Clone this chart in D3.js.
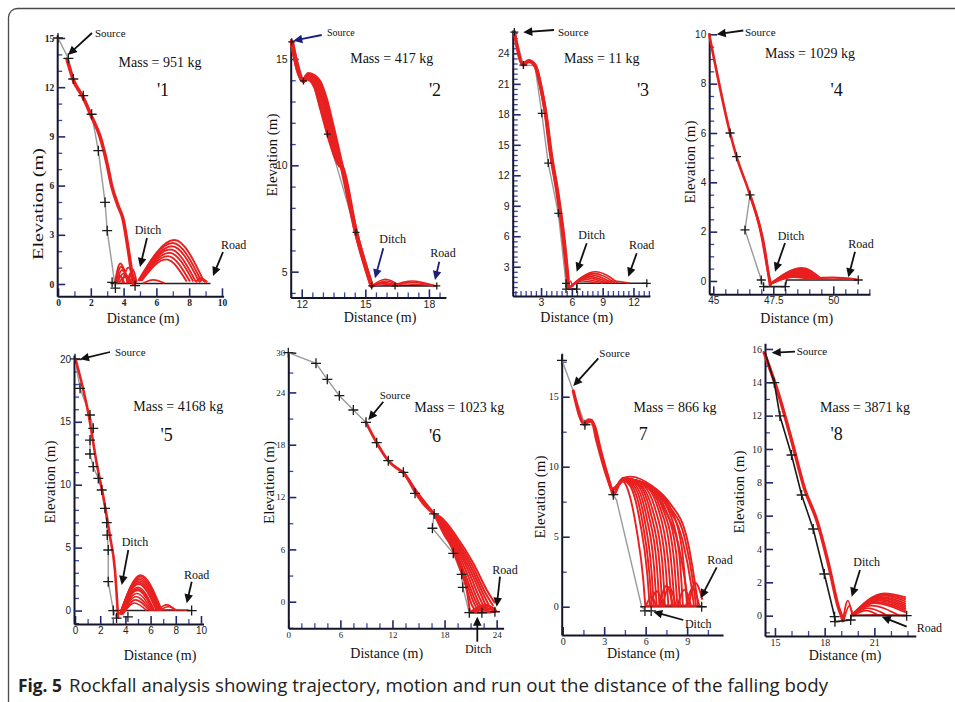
<!DOCTYPE html>
<html><head><meta charset="utf-8">
<script src="https://cdn.jsdelivr.net/npm/d3@7"></script>
<style>body{margin:0;background:#fff}svg{display:block}</style>
</head><body>
<svg id="fig" width="955" height="702"></svg>
<script>
// ---------- values ----------
const masses = [951, 417, 11, 1029, 4168, 1023, 866, 3871];
const panelTags = ["'1", "'2", "'3", "'4", "'5", "'6", "7", "'8"];

// Panel 1
const xTicks1 = [0, 2, 4, 6, 8, 10], yTicks1 = [0, 3, 6, 9, 12, 15];
const terrain1 = [[0,15],[0.63,13.76],[0.93,12.5],[1.54,11.48],[2.05,10.35],[2.46,8.13],[2.87,4.98],[3.0,3.25],[3.5,-0.25]];
const ground1 = [[3.2,0.03],[9.3,0.03]];
const markers1 = [[0,15],[0.63,13.76],[0.93,12.5],[1.54,11.48],[2.05,10.35],[2.46,8.13],[2.87,4.98],[3.0,3.25],[3.3,0.1],[3.5,-0.25],[4.7,-0.1]];
const trunks1 = [[[0.55,13.7],[0.93,12.45],[1.54,11.35],[2.05,10.2],[2.56,9.0],[3.0,7.3],[3.27,6.0],[3.65,4.8],[3.98,3.9],[4.3,2.0],[4.6,0.0]]];
const arcs1 = [
  [[3.45,0.0],[3.8,1.25],[4.25,0.05]], [[3.5,0.0],[3.85,1.05],[4.3,0.05]], [[3.55,0.0],[3.9,0.85],[4.4,0.05]],
  [[3.6,0.05],[4.0,0.65],[4.5,0.05]], [[3.7,0.05],[4.1,0.45],[4.6,0.05]], [[4.2,0.05],[4.45,0.7],[4.75,0.05]],
  [[4.3,0.05],[4.55,0.9],[4.8,0.1]], [[3.5,0.05],[3.75,0.5],[4.05,0.05]], [[3.9,0.05],[4.3,1.0],[4.7,0.05]],
  [[4.9,0.2],[7.1,2.68],[8.9,0.15]], [[4.9,0.2],[7.0,2.5],[8.75,0.15]], [[4.95,0.2],[6.95,2.3],[8.6,0.15]],
  [[5.0,0.2],[6.85,2.1],[8.4,0.15]], [[5.0,0.2],[6.8,1.9],[8.25,0.15]], [[5.05,0.2],[6.7,1.7],[8.05,0.15]],
  [[5.1,0.2],[6.6,1.5],[7.85,0.15]],
  [[8.4,0.1],[8.7,0.35],[9.0,0.1]], [[8.6,0.1],[8.85,0.3],[9.1,0.1]], [[5.2,0.05],[5.8,0.25],[6.5,0.05]]
];

// Panel 2
const xTicks2 = [12, 15, 18], yTicks2 = [5, 10, 15];
const terrain2 = [[11.53,15.81],[12.08,13.97],[12.5,13.97],[13.21,11.47],[14.56,6.85],[15.3,4.33]];
const ground2 = [[15.3,4.33],[18.37,4.33]];
const markers2 = [[11.53,15.81],[12.08,13.97],[13.21,11.47],[14.56,6.85],[15.3,4.33],[16.4,4.33],[18.37,4.33]];
const trunks2 = [
  [[11.53,15.81],[12.08,13.97],[12.31,14.29],[12.78,14.01],[13.15,13.07],[13.42,11.98],[13.68,10.88],[13.89,9.94],[14.56,6.85],[15.3,4.33]],
  [[11.53,15.81],[12.08,13.97],[12.25,14.1],[12.63,13.7],[12.94,12.6],[13.33,11.19],[13.73,10.1],[13.89,9.94],[14.56,6.85],[15.3,4.33]],
  [[12.15,14.05],[12.5,14.2],[12.88,13.65],[13.2,12.3],[13.5,11.1],[13.8,10.0]],
  [[12.2,14.15],[12.65,13.95],[13.05,12.9],[13.38,11.6],[13.7,10.5],[13.9,9.9]]
];
const arcs2 = [
  [[15.3,4.33],[15.95,4.64],[16.6,4.36]], [[15.35,4.33],[16.0,4.56],[16.5,4.36]], [[15.4,4.33],[15.9,4.5],[16.4,4.35]],
  [[15.3,4.33],[15.8,4.45],[16.3,4.35]], [[16.3,4.36],[17.2,4.56],[18.3,4.34]], [[16.4,4.36],[17.1,4.5],[18.25,4.34]],
  [[15.5,4.35],[16.9,4.42],[18.3,4.34]]
];

// Panel 3
const xTicks3 = [3, 6, 9, 12], yTicks3 = [3, 6, 9, 12, 15, 18, 21, 24];
const terrain3 = [[0.4,26.1],[1.28,22.85],[2.4,22.8],[3.07,18.1],[3.7,13.2],[4.68,8.26],[5.43,1.37],[5.5,0.8]];
const ground3 = [[5.5,0.8],[6.47,0.8],[6.5,1.37],[13.3,1.37]];
const markers3 = [[0.4,26.1],[1.28,22.85],[3.07,18.1],[3.7,13.2],[4.68,8.26],[5.43,1.37],[5.43,0.8],[6.47,0.8],[13.3,1.37]];
const trunks3 = [
  [[0.4,26.1],[1.28,22.85],[1.76,23.28],[2.41,22.85],[2.9,21.05],[3.39,18.42],[3.88,14.49],[4.53,10.55],[5.11,6.29],[5.56,2.02],[5.66,0.9]],
  [[1.5,23.1],[1.85,23.2],[2.5,22.6],[3.0,20.6],[3.5,17.8],[4.0,14.0],[4.65,10.1],[5.2,6.0],[5.62,1.8]]
];
const arcs3 = [
  [[5.7,0.9],[8.3,2.5],[10.5,1.4]], [[5.7,0.9],[8.1,2.35],[10.2,1.4]], [[5.75,0.9],[7.9,2.2],[9.9,1.4]],
  [[5.75,0.9],[7.7,2.05],[9.6,1.4]], [[5.8,0.95],[7.5,1.9],[9.3,1.4]], [[5.8,1.0],[7.3,1.75],[9.0,1.4]],
  [[5.85,1.0],[7.0,1.6],[8.5,1.4]], [[5.62,0.85],[5.85,1.6],[6.1,1.0]], [[8.8,1.4],[10.0,1.6],[11.6,1.4]]
];

// Panel 4
const xTicks4 = [45, 47.5, 50], yTicks4 = [0, 2, 4, 6, 8, 10];
const terrain4 = [[44.83,10],[45.7,6.0],[45.97,5.04],[46.53,3.49],[46.32,2.07],[47.0,0.04],[47.1,-0.23]];
const ground4 = [[47.1,-0.23],[48.0,-0.23],[48.05,0.04],[51.04,0.04]];
const markers4 = [[45.7,6.0],[45.97,5.04],[46.53,3.49],[46.32,2.07],[47.0,0.04],[47.1,-0.23],[48.0,-0.23],[51.04,0.04]];
const trunks4 = [
  [[44.83,10],[45.7,6.0],[45.97,5.04],[46.53,3.49],[47.15,1.26],[47.36,-0.16]],
  [[46.53,3.49],[47.0,1.9],[47.3,0.3],[47.4,-0.15]]
];
const arcs4 = [
  [[47.4,-0.1],[48.7,0.52],[49.45,0.12]], [[47.42,-0.1],[48.65,0.47],[49.4,0.12]], [[47.44,-0.1],[48.6,0.42],[49.35,0.12]],
  [[47.46,-0.08],[48.55,0.37],[49.3,0.12]], [[47.48,-0.08],[48.5,0.32],[49.25,0.12]], [[47.5,-0.06],[48.45,0.27],[49.2,0.12]],
  [[47.52,-0.05],[48.4,0.22],[49.1,0.12]], [[47.55,-0.03],[48.35,0.17],[49.0,0.1]], [[49.0,0.1],[50.0,0.14],[51.0,0.06]]
];

// Panel 5
const xTicks5 = [0, 2, 4, 6, 8, 10], yTicks5 = [0, 5, 10, 15, 20];
const terrain5 = [[0,20],[0.4,17.66],[1.19,15.54],[1.45,14.48],[1.19,13.55],[1.19,12.44],[1.45,11.43],[1.85,10.5],[2.12,9.58],[2.38,8.12],[2.52,6.98],[2.56,6.0],[2.64,4.81],[2.64,2.29],[3.04,0],[3.3,-0.6]];
const ground5 = [[3.04,0],[9.26,0]];
const markers5 = [[0,20],[0.4,17.66],[1.19,15.54],[1.45,14.48],[1.19,13.55],[1.19,12.44],[1.45,11.43],[1.85,10.5],[2.12,9.58],[2.38,8.12],[2.52,6.98],[2.56,6.0],[2.64,4.81],[2.64,2.29],[3.04,0],[3.3,-0.6],[4.2,-0.5],[9.26,0]];
const trunks5 = [[[0.05,19.95],[1.06,15.67],[1.72,11.7],[2.25,9.05],[2.78,5.87],[3.17,3.22],[3.42,-0.55]]];
const arcs5 = [
  [[3.55,-0.3],[5.2,2.82],[6.9,0]], [[3.55,-0.3],[5.15,2.6],[6.75,0]], [[3.6,-0.3],[5.1,2.35],[6.6,0]],
  [[3.6,-0.3],[5.05,2.1],[6.45,0]], [[3.65,-0.3],[5.0,1.85],[6.3,0]], [[3.65,-0.3],[4.95,1.6],[6.2,0]],
  [[3.7,-0.3],[4.9,1.35],[6.1,0]], [[3.7,-0.3],[4.85,1.1],[6.0,0]], [[3.75,-0.3],[4.8,0.85],[5.9,0]],
  [[3.8,-0.3],[4.7,0.6],[5.7,0]], [[3.55,-0.3],[5.18,2.72],[6.82,0]], [[3.6,-0.3],[5.12,2.48],[6.68,0]],
  [[3.62,-0.3],[5.07,2.22],[6.52,0]], [[3.67,-0.3],[4.97,1.72],[6.25,0]],
  [[6.5,0],[7.3,0.45],[8.0,0]], [[6.7,0],[7.4,0.3],[8.1,0]], [[6.0,0.03],[7.5,0.06],[9.0,0.03]]
];

// Panel 6
const xTicks6 = [0, 6, 12, 18, 24], yTicks6 = [0, 6, 12, 18, 24, 30];
const terrain6 = [[0,30],[3.19,28.39],[4.49,25.97],[5.88,23.62],[7.49,21.98],[8.95,20.57],[10.18,18.23],[11.52,16.17],[13.25,14.84],[14.6,12.43],[16.8,10.06],[16.6,8.42],[19.0,5.55],[19.97,3.14],[20.1,1.65],[20.85,-1.26]];
const ground6 = [[20.85,-1.26],[22.3,-1.26],[23.8,-1.15]];
const markers6 = [[0,30],[3.19,28.39],[4.49,25.97],[5.88,23.62],[7.49,21.98],[8.95,20.57],[10.18,18.23],[11.52,16.17],[13.25,14.84],[14.6,12.43],[16.8,10.06],[16.6,8.42],[19.0,5.55],[19.97,3.14],[20.1,1.65],[20.85,-1.26],[22.3,-1.26],[23.8,-1.15]];
const trunks6 = [
  [[8.95,20.57],[10.18,18.23],[11.52,16.17],[13.25,14.84]],
  [[13.25,14.84],[13.64,14.33],[14.5,13.0],[15.3,11.9],[15.94,11.1],[16.8,10.06]],
  [[13.25,14.84],[14.0,13.7],[14.6,12.6],[15.5,11.3],[16.8,10.06]]
];
const arcs6 = [
  [[16.8,10.06],[17.48,9.75],[19.4,7.45],[21.31,4.4],[22.86,1.34],[23.81,-0.18]],
  [[16.8,10.06],[17.5,9.4],[19.3,7.0],[21.0,4.0],[22.4,1.0],[23.3,-0.8]],
  [[16.8,10.06],[17.55,9.2],[19.25,6.8],[20.9,3.7],[22.2,0.8],[23.0,-1.0]],
  [[16.8,10.06],[17.6,9.0],[19.2,6.6],[20.8,3.4],[22.0,0.5],[22.8,-1.1]],
  [[16.8,10.06],[17.65,8.8],[19.15,6.4],[20.65,3.1],[21.8,0.2],[22.5,-1.15]],
  [[16.8,10.06],[17.7,8.6],[19.1,6.2],[20.5,2.8],[21.6,0.0],[22.3,-1.2]],
  [[16.8,10.06],[17.75,8.4],[19.05,6.0],[20.4,2.55],[21.4,-0.2],[21.95,-1.2]],
  [[16.8,10.06],[17.8,8.2],[19.0,5.8],[20.3,2.3],[21.2,-0.5],[21.7,-1.2]],
  [[16.8,10.06],[18.0,7.6],[19.05,5.93],[20.55,1.34],[20.93,-1.15]],
  [[16.8,10.06],[17.52,9.55],[19.35,7.2],[21.15,4.2],[22.6,1.2],[23.6,-0.5]],
  [[20.9,-1.2],[22.2,-0.6],[23.9,-1.1]], [[21.2,-1.2],[22.6,-0.35],[23.9,-0.9]],
  [[21.5,-1.25],[22.9,-0.5],[24.0,-1.1]], [[21.0,-1.25],[22.0,-0.9],[23.5,-1.2]],
  [[20.9,-1.2],[22.5,-1.25],[23.9,-1.15]], [[21.3,-1.2],[22.8,-0.8],[23.95,-1.0]]
];

// Panel 7
const xTicks7 = [0, 3, 6, 9], yTicks7 = [0, 5, 10, 15];
const terrain7 = [[-0.05,17.6],[0.77,15.4],[1.61,13.0],[2.2,13.0],[3.66,8.0],[3.9,7.6],[5.71,0],[5.95,-0.24]];
const ground7 = [[5.6,0],[10.4,0]];
const markers7 = [[-0.05,17.6],[1.61,13.0],[3.66,8.0],[5.95,-0.3],[6.4,-0.3],[10.05,0]];
const trunks7 = [
  [[0.77,15.4],[1.61,13.0],[1.85,13.34],[2.1,13.3],[2.46,11.9],[3.06,9.76],[3.54,8.34],[3.66,7.98],[4.14,8.93],[4.38,9.17]],
  [[1.61,13.0],[2.0,13.25],[2.3,12.9],[2.7,11.3],[3.2,9.5],[3.6,8.4],[4.0,8.7],[4.4,9.1]]
];
const arcs7 = [
  [[4.3,9.1],[4.63,8.57],[5.35,5.48],[5.83,1.9],[5.98,0]],
  [[4.3,9.1],[4.9,8.6],[5.6,6.0],[6.1,2.5],[6.3,0]],
  [[4.3,9.1],[5.0,8.65],[5.75,6.15],[6.25,2.6],[6.45,0]],
  [[4.3,9.1],[5.1,8.7],[5.9,6.3],[6.4,2.8],[6.6,0]],
  [[4.3,9.1],[5.2,8.75],[6.05,6.45],[6.6,2.9],[6.8,0]],
  [[4.3,9.1],[5.3,8.8],[6.2,6.6],[6.8,3.0],[7.0,0]],
  [[4.35,9.12],[5.4,8.8],[6.35,6.75],[7.0,3.1],[7.2,0]],
  [[4.4,9.15],[5.5,8.8],[6.5,6.9],[7.2,3.2],[7.4,0]],
  [[4.4,9.15],[5.65,8.8],[6.7,6.95],[7.4,3.35],[7.65,0]],
  [[4.4,9.15],[5.8,8.8],[6.9,7.0],[7.6,3.5],[7.9,0]],
  [[4.4,9.18],[5.9,8.78],[7.05,7.05],[7.8,3.65],[8.1,0]],
  [[4.4,9.2],[6.0,8.75],[7.2,7.1],[8.0,3.8],[8.3,0]],
  [[4.4,9.2],[6.1,8.72],[7.35,7.15],[8.2,3.9],[8.5,0]],
  [[4.4,9.2],[6.2,8.7],[7.5,7.2],[8.4,4.0],[8.7,0]],
  [[4.4,9.2],[6.3,8.65],[7.65,7.3],[8.6,4.3],[9.0,0]],
  [[4.4,9.2],[4.87,9.29],[6.5,8.6],[7.76,7.38],[8.96,5.0],[9.57,1.67],[9.81,0]],
  [[4.4,9.2],[6.45,8.55],[7.7,7.2],[8.85,4.8],[9.45,1.6],[9.65,0]],
  [[4.4,9.2],[6.4,8.5],[7.6,7.1],[8.7,4.6],[9.3,1.5],[9.5,0]],
  [[4.4,9.2],[6.3,8.4],[7.4,6.9],[8.4,4.3],[8.9,1.5],[9.1,0]],
  [[6.0,0],[6.4,0.7],[6.8,0]], [[6.3,0],[6.8,1.1],[7.3,0]], [[7.0,0],[7.5,1.5],[8.0,0]],
  [[7.2,0],[7.7,1.4],[8.2,0]], [[8.3,0],[8.8,1.2],[9.3,0]], [[9.1,0],[9.6,1.7],[10.1,0.5]],
  [[8.9,0],[9.4,1.3],[9.9,0]], [[6.0,0.05],[8.0,0.1],[10.0,0.05]]
];

// Panel 8
const xTicks8 = [15, 18, 21], yTicks8 = [0, 2, 4, 6, 8, 10, 12, 14, 16];
const terrain8 = [[14.4,15.8],[14.96,13.98],[15.3,11.98],[16.0,9.64],[16.61,7.24],[17.31,5.2],[17.98,2.5],[18.6,-0.06],[18.62,-0.36]];
const ground8 = [[18.62,-0.36],[19.57,-0.26],[19.6,0],[22.95,0]];
const markers8 = [[14.96,13.98],[15.3,11.98],[16.0,9.64],[16.61,7.24],[17.31,5.2],[17.98,2.5],[18.6,-0.06],[18.62,-0.36],[19.57,-0.26],[22.95,0]];
const trunks8 = [[[14.35,15.78],[15.2,13.34],[16.0,10.54],[16.81,7.54],[17.52,5.74],[18.22,3.14],[18.82,0.54],[19.03,-0.06],[19.1,-0.3]]];
const arcs8 = [
  [[19.1,-0.3],[19.4,0.9],[19.65,0.1]], [[19.15,-0.3],[19.5,0.6],[19.7,0]],
  [[19.6,0],[21.6,1.34],[22.9,1.1]], [[19.6,0],[21.55,1.27],[22.9,0.98]], [[19.6,0],[21.5,1.2],[22.9,0.85]],
  [[19.6,0],[21.45,1.12],[22.9,0.72]], [[19.6,0],[21.4,1.05],[22.9,0.6]], [[19.6,0],[21.35,0.97],[22.9,0.5]],
  [[19.6,0],[21.3,0.9],[22.9,0.4]], [[19.6,0],[21.15,0.82],[22.9,0.3]], [[19.6,0],[21.0,0.75],[22.9,0.2]],
  [[19.65,0],[20.8,0.6],[22.5,0]], [[19.7,0],[20.6,0.45],[21.8,0]], [[19.7,0],[20.5,0.3],[21.3,0]],
  [[19.6,0.02],[21.0,0.05],[22.9,0.02]]
];

// ---------- drawing ----------
const SERIF = "'Liberation Serif','Times New Roman',serif";
const SANS = "'Liberation Sans',Arial,sans-serif";
const RED = "#e8201f";

const svg = d3.select("#fig");
svg.append("rect").attr("x", 8.5).attr("y", 8.5).attr("width", 1000).attr("height", 1000)
  .attr("rx", 9).attr("fill", "none").attr("stroke", "#4a4a4a").attr("stroke-width", 1.3);

const panels = [
  {terrain:terrain1, ground:ground1, markers:markers1, trunks:trunks1, arcs:arcs1, xTicks:xTicks1, yTicks:yTicks1,
   xDom:[-0.05,10.1], xRng:[57.2,223.6], yDom:[-0.75,15.2], yRng:[296.3,34.7], xMinor:1, yMinor:1,
   tickFont:SERIF, tickSize:9.5, tickWeight:"bold", mark:5, trunkW:3.5, arcW:1.9, arrowColor:"#111",
   mass:[160,62], tag:[163,90], dist:[143,318], elev:[38,204,112],
   notes:[{t:"Source", at:[95,33], a:"start", s:11, tail:[92,33], tip:[68,55]},
          {t:"Ditch", at:[148,230], a:"middle", s:12, tail:[147,238], tip:[140,267]},
          {t:"Road", at:[221,245], a:"start", s:12, tail:[223,252], tip:[213,276]}]},
  {terrain:terrain2, ground:ground2, markers:markers2, trunks:trunks2, arcs:arcs2, xTicks:xTicks2, yTicks:yTicks2,
   xDom:[11.48,18.8], xRng:[290.7,445.9], yDom:[3.79,15.95], yRng:[297.4,38.8], xMinor:0.5, yMinor:1,
   tickFont:SANS, tickSize:10.5, tickWeight:"normal", mark:3.5, trunkW:4.2, arcW:1.6, arrowColor:"#1c1f7a",
   mass:[391.7,58.3], tag:[435,90], dist:[380,316.7], elev:[271.7,155],
   notes:[{t:"Source", at:[327,32], a:"start", s:10, tail:[321.7,35], tip:[293.3,40.7]},
          {t:"Ditch", at:[392.7,239], a:"middle", s:12, tail:[383.3,248.3], tip:[375,278.3]},
          {t:"Road", at:[443,253], a:"middle", s:12, tail:[439.3,261.7], tip:[435,280]}]},
  {terrain:terrain3, ground:ground3, markers:markers3, trunks:trunks3, arcs:arcs3, xTicks:xTicks3, yTicks:yTicks3,
   xDom:[0.24,13.6], xRng:[512.7,649.9], yDom:[0.12,26.3], yRng:[296,30], xMinor:0.5, yMinor:0.5,
   tickFont:SANS, tickSize:10.5, tickWeight:"normal", mark:4, trunkW:3.5, arcW:1.6, arrowColor:"#111",
   mass:[601.7,58.3], tag:[643,90], dist:[576.7,316.7], elev:null,
   notes:[{t:"Source", at:[558,32.3], a:"start", s:11, tail:[554,30], tip:[523.3,32.3]},
          {t:"Ditch", at:[591.7,235], a:"middle", s:12, tail:[586.7,243.3], tip:[576.7,271.7]},
          {t:"Road", at:[641.7,245], a:"middle", s:12, tail:[636.7,253.3], tip:[628.3,276.7]}]},
  {terrain:terrain4, ground:ground4, markers:markers4, trunks:trunks4, arcs:arcs4, xTicks:xTicks4, yTicks:yTicks4,
   xDom:[44.83,51.53], xRng:[709.2,870], yDom:[-0.54,10.05], yRng:[294.3,33.1], xMinor:0.5, yMinor:0.5,
   tickFont:SANS, tickSize:10, tickWeight:"normal", mark:4.5, trunkW:2.6, arcW:2.2, arrowColor:"#111",
   mass:[810,53.3], tag:[836.7,90], dist:[796.7,317.7], elev:[690,162],
   notes:[{t:"Source", at:[745,31.7], a:"start", s:11, tail:[743.3,30.5], tip:[716.7,34.3]},
          {t:"Ditch", at:[791,236], a:"middle", s:12, tail:[785,243], tip:[775,271.7]},
          {t:"Road", at:[861,244], a:"middle", s:12, tail:[855,251.7], tip:[848.3,277.3]}]},
  {terrain:terrain5, ground:ground5, markers:markers5, trunks:trunks5, arcs:arcs5, xTicks:xTicks5, yTicks:yTicks5,
   xDom:[-0.08,10.2], xRng:[74,203.5], yDom:[-1.07,20.3], yRng:[624,355.1], xMinor:1, yMinor:1,
   tickFont:SANS, tickSize:10, tickWeight:"normal", mark:5, trunkW:2.6, arcW:1.6, arrowColor:"#111",
   mass:[178.3,406], tag:[166.7,435], dist:[160,655], elev:[50,482],
   notes:[{t:"Source", at:[115,351.7], a:"start", s:11, tail:[110,352], tip:[80,359.3]},
          {t:"Ditch", at:[135,541.7], a:"middle", s:12, tail:[128.3,550], tip:[121.7,585]},
          {t:"Road", at:[196.7,574.3], a:"middle", s:12, tail:[191.7,581.7], tip:[186.7,603.3]}]},
  {terrain:terrain6, ground:ground6, markers:markers6, trunks:trunks6, arcs:arcs6, xTicks:xTicks6, yTicks:yTicks6,
   xDom:[0,24.8], xRng:[288.3,503.6], yDom:[-3.05,24,30], yRng:[628.3,392.4,352.7], xMinor:1.5, yMinor:3,
   tickFont:SERIF, tickSize:9, tickWeight:"normal", mark:5, trunkW:2.8, arcW:2.0, arrowColor:"#111",
   mass:[459.3,407.3], tag:[435,436], dist:[386.7,653.3], elev:[268.3,482.5],
   notes:[{t:"Source", at:[395,395], a:"middle", s:11, tail:[383.3,401.7], tip:[368.3,420]},
          {t:"Road", at:[505,569.3], a:"middle", s:12, tail:[500,576.7], tip:[496.7,606.7]},
          {t:"Ditch", at:[478.3,648.3], a:"middle", s:12, tail:[477.3,641.7], tip:[477.3,616.7]}]},
  {terrain:terrain7, ground:ground7, markers:markers7, trunks:trunks7, arcs:arcs7, xTicks:xTicks7, yTicks:yTicks7,
   xDom:[-0.07,11.6], xRng:[561.7,723.1], yDom:[-2.02,18.1], yRng:[635,353.3], xMinor:1.5, yMinor:2.5,
   tickFont:SERIF, tickSize:10, tickWeight:"normal", mark:5, trunkW:3.2, arcW:1.9, arrowColor:"#111",
   mass:[675,406.7], tag:[643.3,433.3], dist:[643.3,653.3], elev:[539.3,497],
   notes:[{t:"Source", at:[599.3,352.7], a:"start", s:11, tail:[598.3,358.3], tip:[573.3,386]},
          {t:"Road", at:[720,559.3], a:"middle", s:12, tail:[716.7,567.3], tip:[700.7,598.3]},
          {t:"Ditch", at:[698.3,623.3], a:"middle", s:12, tail:[683.3,620], tip:[653.3,611.7]}]},
  {terrain:terrain8, ground:ground8, markers:markers8, trunks:trunks8, arcs:arcs8, xTicks:xTicks8, yTicks:yTicks8,
   xDom:[14.4,23.5], xRng:[765,915.8], yDom:[-1.22,16.34], yRng:[636,343.3], xMinor:1, yMinor:1,
   tickFont:SERIF, tickSize:10, tickWeight:"normal", mark:5, trunkW:3.4, arcW:1.8, arrowColor:"#111", terrainOnTop:true,
   mass:[865,406.7], tag:[836.7,433.3], dist:[845,655], elev:[738.3,492],
   notes:[{t:"Source", at:[796.7,350.7], a:"start", s:11, tail:[795,351.7], tip:[771.7,352.7]},
          {t:"Ditch", at:[866.7,561.7], a:"middle", s:12, tail:[860,570], tip:[851.7,596.7]},
          {t:"Road", at:[916.7,627.3], a:"start", s:12, tail:[906.7,626.7], tip:[881.7,616.7]}]}
];

function minorValues(dom, step, majors) {
  const lo = dom[0], hi = dom[dom.length - 1];
  return d3.range(Math.ceil(lo / step) * step, hi + 1e-9, step)
    .filter(v => !majors.some(t => Math.abs(t - v) < 1e-6));
}

function arrow(g, tail, tip, color) {
  const dx = tip[0] - tail[0], dy = tip[1] - tail[1];
  const L = Math.hypot(dx, dy), ux = dx / L, uy = dy / L;
  const hl = 9, hw = 4.3;
  const bx = tip[0] - ux * hl, by = tip[1] - uy * hl;
  g.append("line").attr("x1", tail[0]).attr("y1", tail[1]).attr("x2", bx + ux).attr("y2", by + uy)
    .attr("stroke", color).attr("stroke-width", 1.8);
  g.append("path").attr("d", `M${tip[0]},${tip[1]}L${bx - uy * hw},${by + ux * hw}L${bx + uy * hw},${by - ux * hw}Z`)
    .attr("fill", color);
}

panels.forEach((p, i) => {
  const x = d3.scaleLinear().domain(p.xDom).range(p.xRng);
  const y = d3.scaleLinear().domain(p.yDom).range(p.yRng);
  const g = svg.append("g");
  const bottom = p.yRng[0], left = p.xRng[0];

  // minor ticks
  g.append("g").attr("transform", `translate(0,${bottom})`)
    .call(d3.axisBottom(x).tickValues(minorValues(p.xDom, p.xMinor, p.xTicks)).tickSize(-5).tickSizeOuter(0).tickFormat(""))
    .call(a => a.select(".domain").remove())
    .selectAll("line").attr("stroke", "#3b45a8").attr("stroke-width", 1.3);
  g.append("g").attr("transform", `translate(${left},0)`)
    .call(d3.axisLeft(y).tickValues(minorValues(p.yDom, p.yMinor, p.yTicks)).tickSize(-5).tickSizeOuter(0).tickFormat(""))
    .call(a => a.select(".domain").remove())
    .selectAll("line").attr("stroke", "#3b45a8").attr("stroke-width", 1.3);

  // major ticks, labels and axis lines
  const styleAxis = a => {
    a.select(".domain").attr("stroke", "#15152a").attr("stroke-width", 2);
    a.selectAll(".tick line").attr("stroke", "#23286e").attr("stroke-width", 1.6);
    a.selectAll("text").attr("font-family", p.tickFont).attr("font-size", p.tickSize)
      .attr("font-weight", p.tickWeight).attr("fill", "#222");
  };
  g.append("g").attr("transform", `translate(0,${bottom})`)
    .call(d3.axisBottom(x).tickValues(p.xTicks).tickSize(-8).tickSizeOuter(0).tickPadding(3).tickFormat(d => String(d)))
    .call(styleAxis);
  g.append("g").attr("transform", `translate(${left},0)`)
    .call(d3.axisLeft(y).tickValues(p.yTicks).tickSize(-8).tickSizeOuter(0).tickPadding(3).tickFormat(d => String(d)))
    .call(styleAxis);

  const straight = d3.line().x(d => x(d[0])).y(d => y(d[1]));
  const smooth = d3.line().x(d => x(d[0])).y(d => y(d[1])).curve(d3.curveMonotoneX);

  const drawTerrain = () => {
    g.append("path").attr("d", straight(p.terrain)).attr("fill", "none")
      .attr("stroke", p.terrainOnTop ? "#1a1a1a" : "#9a9a9a").attr("stroke-width", p.terrainOnTop ? 1.6 : 1.4);
    g.append("path").attr("d", straight(p.ground)).attr("fill", "none")
      .attr("stroke", "#222").attr("stroke-width", 1.6);
  };
  if (!p.terrainOnTop) drawTerrain();

  // rockfall trajectories
  g.append("g").selectAll("path").data(p.arcs).join("path")
    .attr("d", smooth).attr("fill", "none").attr("stroke", RED).attr("stroke-width", p.arcW);
  g.append("g").selectAll("path").data(p.trunks).join("path")
    .attr("d", smooth).attr("fill", "none").attr("stroke", RED).attr("stroke-width", p.trunkW)
    .attr("stroke-linejoin", "round").attr("stroke-linecap", "round");

  if (p.terrainOnTop) drawTerrain();

  // profile points
  const s = p.mark;
  g.append("g").selectAll("path").data(p.markers).join("path")
    .attr("transform", d => `translate(${x(d[0])},${y(d[1])})`)
    .attr("d", `M${-s},0H${s}M0,${-s}V${s}`).attr("stroke", "#1b1b1b").attr("stroke-width", 1.3);

  // annotations
  p.notes.forEach(n => {
    arrow(g, n.tail, n.tip, p.arrowColor);
    g.append("text").attr("x", n.at[0]).attr("y", n.at[1]).attr("dy", "0.35em").attr("text-anchor", n.a)
      .attr("font-family", SERIF).attr("font-size", n.s).attr("fill", "#111").text(n.t);
  });

  g.append("text").attr("x", p.mass[0]).attr("y", p.mass[1]).attr("dy", "0.35em").attr("text-anchor", "middle")
    .attr("font-family", SERIF).attr("font-size", 14).attr("fill", "#111").text(`Mass = ${masses[i]} kg`);
  g.append("text").attr("x", p.tag[0]).attr("y", p.tag[1]).attr("dy", "0.35em").attr("text-anchor", "middle")
    .attr("font-family", SERIF).attr("font-size", 18).attr("fill", "#111").text(panelTags[i]);
  g.append("text").attr("x", p.dist[0]).attr("y", p.dist[1]).attr("dy", "0.35em").attr("text-anchor", "middle")
    .attr("font-family", SERIF).attr("font-size", 14).attr("fill", "#111").text("Distance (m)");
  if (p.elev) {
    const t = g.append("text").attr("transform", `translate(${p.elev[0]},${p.elev[1]}) rotate(-90)`)
      .attr("dy", "0.35em").attr("text-anchor", "middle")
      .attr("font-family", SERIF).attr("font-size", 15).attr("fill", "#111").text("Elevation (m)");
    if (p.elev[2]) t.attr("textLength", p.elev[2]).attr("lengthAdjust", "spacingAndGlyphs");
  }
});

// caption
svg.append("text").attr("x", 18).attr("y", 692).attr("font-family", "'Open Sans','Noto Sans',sans-serif")
  .attr("font-size", 18).attr("font-weight", "bold").attr("fill", "#222")
  .attr("textLength", 44).attr("lengthAdjust", "spacingAndGlyphs").text("Fig. 5");
svg.append("text").attr("x", 69).attr("y", 692).attr("font-family", "'Open Sans','Noto Sans',sans-serif")
  .attr("font-size", 18).attr("fill", "#222")
  .attr("textLength", 759).attr("lengthAdjust", "spacingAndGlyphs")
  .text("Rockfall analysis showing trajectory, motion and run out the distance of the falling body");
</script>
</body></html>
